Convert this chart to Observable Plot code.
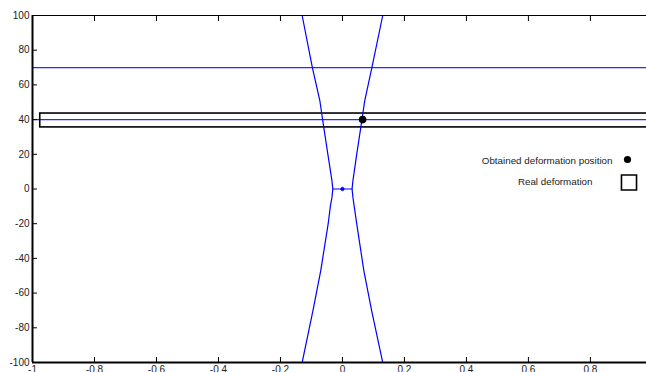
<!DOCTYPE html>
<html>
<head>
<meta charset="utf-8">
<script src="https://cdn.jsdelivr.net/npm/d3@7"></script>
<script src="https://cdn.jsdelivr.net/npm/@observablehq/plot@0.6"></script>
<style>
  html, body { margin: 0; padding: 0; background: #fff; }
  #chart svg { display: block; }
</style>
</head>
<body>
<div id="chart"></div>
<script>
// ---- data ----
const xTicks = [-1, -0.8, -0.6, -0.4, -0.2, 0, 0.2, 0.4, 0.6, 0.8];
const yTicks = [-100, -80, -60, -40, -20, 0, 20, 40, 60, 80, 100];

// V-shaped blue curves
const curveY = [100, 70, 51, 40, 20, 5, 0, -5, -10, -20, -47, -70, -100];
const rightX = [0.130, 0.095, 0.072, 0.063, 0.046, 0.034, 0.031, 0.034, 0.038, 0.046, 0.069, 0.094, 0.130];
const leftX  = [-0.130, -0.097, -0.073, -0.064, -0.047, -0.034, -0.031, -0.034, -0.039, -0.046, -0.070, -0.095, -0.130];

// horizontal connector at y = 0
const connX = [-0.031, 0.031];
const connY = [0, 0];

// horizontal reference lines
const hLinesY = [70, 40];
const hLineX1 = -1;
const hLineX2 = 1.2;

// real deformation rectangle
const rectX1 = [-0.975];
const rectX2 = [1.2];
const rectY1 = [35.5];
const rectY2 = [43.5];

// obtained deformation position
const obtX = [0.065];
const obtY = [40];

// centre marker
const centerX = [0];
const centerY = [0];

const legendLabels = ["Obtained deformation position", "Real deformation"];

// ---- build ----
const rightCurve = curveY.map((y, i) => ({x: rightX[i], y}));
const leftCurve = curveY.map((y, i) => ({x: leftX[i], y}));
const conn = connX.map((x, i) => ({x, y: connY[i]}));
const hLines = hLinesY.map(y => ({y, x1: hLineX1, x2: hLineX2}));
const rects = rectX1.map((x1, i) => ({x1, x2: rectX2[i], y1: rectY1[i], y2: rectY2[i]}));
const obt = obtX.map((x, i) => ({x, y: obtY[i]}));
const ctr = centerX.map((x, i) => ({x, y: centerY[i]}));

const blue = "#0000ff";

const chart = Plot.plot({
  width: 646,
  height: 372,
  marginLeft: 32,
  marginRight: 0,
  marginTop: 15,
  marginBottom: 10,
  style: {fontFamily: "'Liberation Sans', Arial, sans-serif", fontSize: "10px", background: "#fff", overflow: "visible"},
  x: {domain: [-1, 0.981], ticks: xTicks, label: null},
  y: {domain: [-100, 100], ticks: yTicks, label: null},
  marks: [
    // reference horizontal lines
    Plot.ruleY(hLines, {y: "y", x1: "x1", x2: "x2", stroke: "#2a2aff", strokeWidth: 1.3, clip: true}),
    // rectangle
    Plot.rect(rects, {x1: "x1", x2: "x2", y1: "y1", y2: "y2", fill: "none", stroke: "#000", strokeWidth: 1.6, clip: true}),
    // curves
    Plot.line(leftCurve, {x: "x", y: "y", stroke: blue, strokeWidth: 1.2, clip: true}),
    Plot.line(rightCurve, {x: "x", y: "y", stroke: blue, strokeWidth: 1.2, clip: true}),
    Plot.line(conn, {x: "x", y: "y", stroke: blue, strokeWidth: 1.2}),
    Plot.dot(ctr, {x: "x", y: "y", r: 1.8, fill: blue, stroke: blue, strokeWidth: 0.6}),
    // obtained position
    Plot.dot(obt, {x: "x", y: "y", r: 3.8, fill: "#000"}),
    // axes lines
    Plot.ruleX([-1], {stroke: "#000", strokeWidth: 2}),
    Plot.ruleY([-100], {stroke: "#000", strokeWidth: 2}),
    Plot.ruleY([100], {stroke: "#000", strokeWidth: 1}),
    // inward ticks
    Plot.axisX({anchor: "bottom", ticks: xTicks, tickSize: 5, dy: -5, fill: "none", stroke: "#000", strokeWidth: 1}),
    Plot.axisX({anchor: "top", ticks: xTicks, tickSize: 5, dy: 5, fill: "none", stroke: "#000", strokeWidth: 1}),
    Plot.axisY({anchor: "left", ticks: yTicks, tickSize: 5, dx: 5, fill: "none", stroke: "#000", strokeWidth: 1}),
    // tick labels
    Plot.axisX({anchor: "bottom", ticks: xTicks, tickSize: 0, tickPadding: 3, fill: "#222", tickFormat: d => String(d), label: null}),
    Plot.axisY({anchor: "left", ticks: yTicks, tickSize: 0, tickPadding: 3, fill: "#222", tickFormat: d => String(d), label: null}),
    // legend
    Plot.text([legendLabels[0]], {text: d => d, frameAnchor: "top-left", dx: 580, dy: 142, textAnchor: "end", fill: "#222", fontSize: 9.8}),
    Plot.dot([legendLabels[0]], {frameAnchor: "top-left", dx: 595, dy: 144, r: 3.6, fill: "#000"}),
    Plot.text([legendLabels[1]], {text: d => d, frameAnchor: "top-left", dx: 560, dy: 163, textAnchor: "end", fill: "#222", fontSize: 9.8}),
    Plot.dot([legendLabels[1]], {frameAnchor: "top-left", dx: 596.5, dy: 167, symbol: "square", r: 8.5, fill: "none", stroke: "#000", strokeWidth: 1.6})
  ]
});
document.getElementById("chart").appendChild(chart);
</script>
</body>
</html>
